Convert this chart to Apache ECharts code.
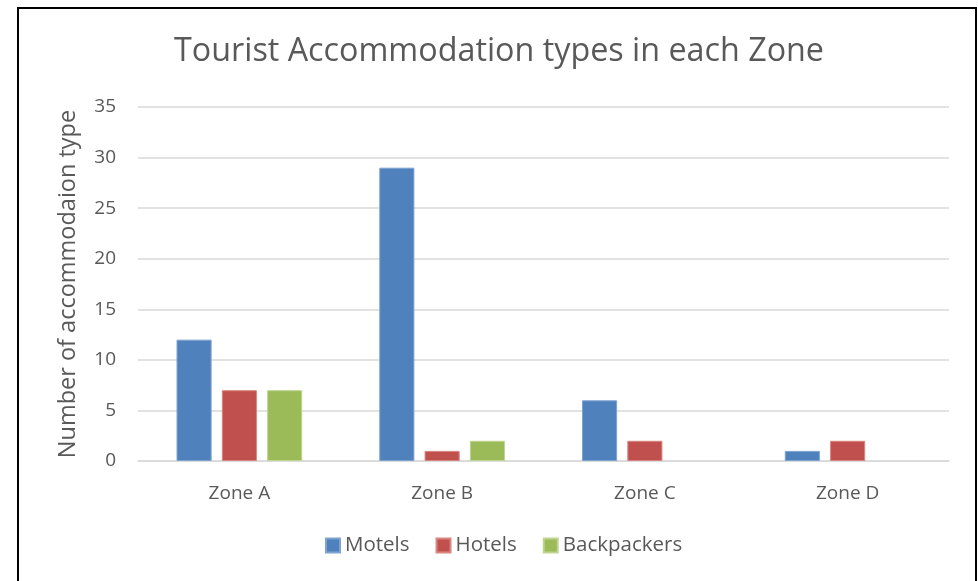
<!DOCTYPE html>
<html>
<head>
<meta charset="utf-8">
<script src="https://cdn.jsdelivr.net/npm/echarts@6/dist/echarts.min.js"></script>
<style>
  html, body { margin: 0; padding: 0; background: #fff; }
  #chart { width: 978px; height: 581px; }
</style>
</head>
<body>
<div id="chart"></div>
<script>
// categories and values
const zones = ['Zone A', 'Zone B', 'Zone C', 'Zone D']
const motels = [12, 29, 6, 1]
const hotels = [7, 1, 2, 2]
const backpackers = [7, 2, 0, 0]

const textColor = '#595959'
const font = 'Open Sans'

const chart = echarts.init(document.getElementById('chart'))

function barSeries(name, data, color, border) {
  return {
    name: name,
    type: 'bar',
    // zero bars get no outline, so nothing is drawn for them
    data: data.map(v => v === 0 ? { value: v, itemStyle: { borderWidth: 0 } } : v),
    barGap: '29%',
    barCategoryGap: '38%',
    itemStyle: {
      color: color,
      borderColor: border,
      borderWidth: 1
    }
  }
}

const options = {
  animation: false,
  textStyle: { fontFamily: font },
  title: {
    text: 'Tourist Accommodation types in each Zone',
    left: 169,
    top: 31,
    textStyle: {
      fontFamily: font,
      fontWeight: 'normal',
      fontSize: 32.3,
      color: textColor
    }
  },
  legend: {
    bottom: 20,
    left: 320,
    itemWidth: 14,
    itemHeight: 14,
    itemGap: 26,
    icon: 'rect',
    textStyle: { fontSize: 20.5, color: textColor, fontFamily: font },
    data: ['Motels', 'Hotels', 'Backpackers']
  },
  grid: {
    left: 138,
    right: 29,
    top: 107,
    bottom: 120
  },
  xAxis: {
    type: 'category',
    data: zones,
    axisTick: { show: false },
    axisLine: { lineStyle: { color: '#d9d9d9', width: 1.5 } },
    axisLabel: { fontSize: 19, color: textColor, margin: 23, fontFamily: font }
  },
  yAxis: {
    type: 'value',
    min: 0,
    max: 35,
    interval: 5,
    name: 'Number of accommodaion type',
    nameLocation: 'middle',
    nameGap: 58,
    nameTextStyle: { fontSize: 23.5, color: textColor, fontFamily: font },
    axisLine: { show: false },
    axisTick: { show: false },
    axisLabel: { fontSize: 19, color: textColor, margin: 22, fontFamily: font },
    splitLine: { lineStyle: { color: '#d9d9d9', width: 1.5 } }
  },
  graphic: [
    {
      type: 'rect',
      shape: { x: 18, y: 8, width: 958, height: 600 },
      style: { fill: 'none', stroke: '#000', lineWidth: 2 },
      silent: true
    }
  ],
  series: [
    barSeries('Motels', motels, '#4f81bd', '#7fa3d0'),
    barSeries('Hotels', hotels, '#c0504d', '#d98582'),
    barSeries('Backpackers', backpackers, '#9bbb59', '#bfd591')
  ]
}

chart.setOption(options)
</script>
</body>
</html>
